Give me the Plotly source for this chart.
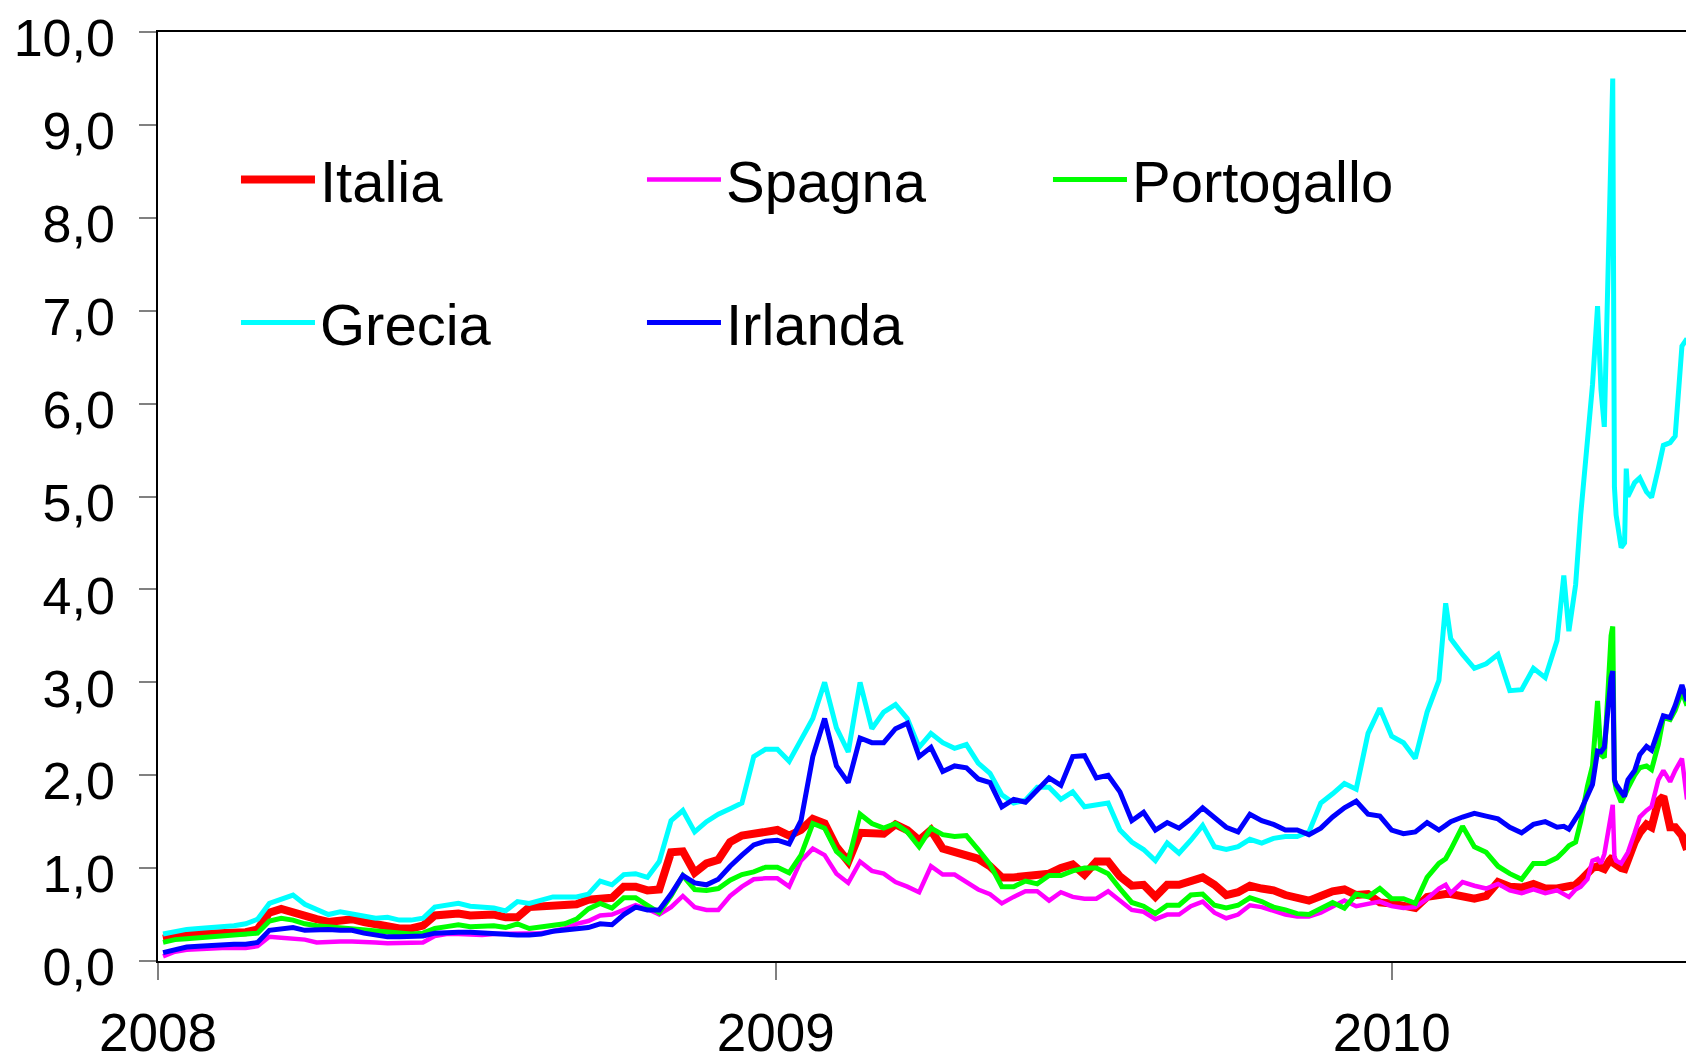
import pandas as pd
import plotly.graph_objects as go

# weekly observation dates (Fridays) plus denser points around the May 2010 crisis
weekly_a = [d.strftime('%Y-%m-%d') for d in pd.date_range('2008-01-04', '2010-01-29', freq='7D')]
extra_feb = ['2010-02-02']
weekly_b = [d.strftime('%Y-%m-%d') for d in pd.date_range('2010-02-05', '2010-04-09', freq='7D')]
late_dates = ['2010-04-13', '2010-04-16', '2010-04-20', '2010-04-23', '2010-04-27', '2010-04-30',
              '2010-05-03', '2010-05-05', '2010-05-07', '2010-05-10', '2010-05-11', '2010-05-12',
              '2010-05-13', '2010-05-14', '2010-05-17', '2010-05-19', '2010-05-20', '2010-05-21',
              '2010-05-25', '2010-05-28', '2010-06-01', '2010-06-04', '2010-06-08', '2010-06-11',
              '2010-06-15', '2010-06-18', '2010-06-22', '2010-06-25']
dates = weekly_a + extra_feb + weekly_b + late_dates

# spreads vs Bund (percentage points)
italia = [0.24, 0.27, 0.29, 0.29, 0.29, 0.30, 0.30, 0.31, 0.34, 0.52,
          0.56, 0.52, 0.47, 0.45, 0.42, 0.44, 0.45, 0.42, 0.39, 0.36,
          0.35, 0.35, 0.38, 0.49, 0.50, 0.51, 0.49, 0.50, 0.50, 0.47,
          0.47, 0.58, 0.59, 0.60, 0.61, 0.61, 0.66, 0.68, 0.68, 0.80,
          0.80, 0.76, 0.77, 1.17, 1.18, 0.95, 1.05, 1.09, 1.28, 1.35,
          1.37, 1.38, 1.41, 1.35, 1.41, 1.53, 1.48, 1.23, 1.07, 1.38,
          1.38, 1.37, 1.47, 1.41, 1.30, 1.41, 1.21, 1.18, 1.15, 1.10,
          1.02, 0.90, 0.90, 0.91, 0.92, 0.94, 1.00, 1.04, 0.93, 1.07,
          1.07, 0.91, 0.81, 0.82, 0.69, 0.82, 0.82, 0.85, 0.90, 0.82,
          0.71, 0.74, 0.81, 0.78, 0.76, 0.71, 0.67, 0.65, 0.70, 0.75,
          0.77, 0.71, 0.72, 0.63, 0.62, 0.60, 0.57, 0.69, 0.72,
          0.72,
          0.72, 0.70, 0.67, 0.70, 0.85, 0.80, 0.79, 0.83, 0.78, 0.78,
          0.79, 0.80, 0.82, 0.87, 0.96, 1.00, 1.02, 1.00, 0.99, 1.08, 1.10, 1.12,
          1.05, 1.03, 1.00, 0.99, 1.05, 1.10, 1.28, 1.38, 1.47, 1.44, 1.72, 1.77,
          1.44, 1.44, 1.35, 1.20]

spagna = [0.05, 0.10, 0.12, 0.13, 0.14, 0.14, 0.14, 0.14, 0.16, 0.26,
          0.25, 0.24, 0.23, 0.20, 0.21, 0.21, 0.21, 0.21, 0.20, 0.19,
          0.19, 0.19, 0.20, 0.27, 0.29, 0.29, 0.28, 0.28, 0.29, 0.29,
          0.29, 0.29, 0.30, 0.32, 0.35, 0.40, 0.43, 0.49, 0.50, 0.55,
          0.60, 0.56, 0.50, 0.58, 0.70, 0.58, 0.55, 0.55, 0.70, 0.80,
          0.88, 0.89, 0.89, 0.80, 1.08, 1.21, 1.14, 0.94, 0.84, 1.07,
          0.97, 0.94, 0.85, 0.80, 0.74, 1.02, 0.93, 0.93, 0.85, 0.77,
          0.72, 0.62, 0.69, 0.75, 0.75, 0.65, 0.74, 0.69, 0.67, 0.67,
          0.75, 0.65, 0.55, 0.53, 0.45, 0.50, 0.50, 0.59, 0.64, 0.52,
          0.46, 0.50, 0.60, 0.58, 0.54, 0.50, 0.48, 0.48, 0.52, 0.59,
          0.65, 0.59, 0.62, 0.64, 0.59, 0.57, 0.58, 0.67, 0.78,
          0.82,
          0.73, 0.85, 0.81, 0.78, 0.83, 0.76, 0.73, 0.77, 0.73, 0.76,
          0.72, 0.69, 0.77, 0.80, 0.88, 1.08, 1.10, 1.05, 1.15, 1.47, 1.62, 1.68,
          1.12, 1.08, 1.05, 1.10, 1.14, 1.17, 1.38, 1.55, 1.62, 1.66, 1.95, 2.05,
          1.93, 2.05, 2.18, 1.74]

portogallo = [0.20, 0.23, 0.24, 0.25, 0.26, 0.26, 0.27, 0.28, 0.30, 0.43,
              0.46, 0.44, 0.40, 0.38, 0.37, 0.36, 0.35, 0.34, 0.33, 0.31,
              0.30, 0.29, 0.30, 0.35, 0.37, 0.39, 0.37, 0.37, 0.38, 0.36,
              0.40, 0.35, 0.37, 0.38, 0.40, 0.45, 0.56, 0.62, 0.57, 0.68,
              0.68, 0.60, 0.52, 0.70, 0.92, 0.77, 0.76, 0.78, 0.87, 0.93,
              0.96, 1.01, 1.01, 0.95, 1.14, 1.48, 1.43, 1.18, 1.07, 1.58,
              1.48, 1.43, 1.48, 1.39, 1.23, 1.43, 1.36, 1.34, 1.35, 1.20,
              1.04, 0.80, 0.80, 0.86, 0.83, 0.92, 0.92, 0.97, 1.00, 1.00,
              0.94, 0.78, 0.63, 0.59, 0.51, 0.60, 0.60, 0.71, 0.72, 0.60,
              0.57, 0.60, 0.68, 0.64, 0.58, 0.55, 0.51, 0.50, 0.56, 0.63,
              0.57, 0.72, 0.69, 0.78, 0.67, 0.67, 0.62, 0.90, 1.05,
              1.10,
              1.20, 1.45, 1.23, 1.17, 1.02, 0.94, 0.88, 1.05, 1.05, 1.11,
              1.18, 1.24, 1.28, 1.50, 1.88, 2.10, 2.80, 2.22, 2.19, 3.33, 3.50, 3.60,
              1.95, 1.85, 1.71, 1.78, 1.84, 1.86, 2.00, 2.08, 2.10, 2.06, 2.33, 2.62,
              2.60, 2.70, 2.90, 2.75]

grecia = [0.29, 0.32, 0.34, 0.35, 0.36, 0.36, 0.38, 0.40, 0.45, 0.62,
          0.66, 0.71, 0.61, 0.55, 0.50, 0.53, 0.51, 0.48, 0.46, 0.47,
          0.44, 0.44, 0.46, 0.58, 0.60, 0.62, 0.59, 0.58, 0.57, 0.54,
          0.64, 0.62, 0.66, 0.69, 0.69, 0.69, 0.72, 0.86, 0.82, 0.93,
          0.94, 0.90, 1.07, 1.51, 1.62, 1.39, 1.50, 1.58, 1.64, 1.70,
          2.20, 2.28, 2.28, 2.15, 2.38, 2.61, 3.00, 2.51, 2.25, 3.00,
          2.50, 2.68, 2.76, 2.61, 2.30, 2.45, 2.35, 2.29, 2.33, 2.13,
          2.02, 1.79, 1.70, 1.73, 1.87, 1.87, 1.74, 1.82, 1.66, 1.68,
          1.70, 1.41, 1.28, 1.20, 1.08, 1.27, 1.16, 1.30, 1.46, 1.23,
          1.20, 1.23, 1.31, 1.27, 1.32, 1.34, 1.34, 1.39, 1.70, 1.80,
          1.91, 1.85, 2.45, 2.72, 2.42, 2.35, 2.18, 2.68, 3.02,
          3.85,
          3.47, 3.30, 3.15, 3.20, 3.30, 2.91, 2.92, 3.15, 3.05, 3.45,
          4.15, 3.55, 4.05, 4.80, 5.60, 6.20, 7.05, 6.16, 5.75, 8.20, 9.00, 9.50,
          5.10, 4.80, 4.45, 4.50, 5.30, 5.00, 5.15, 5.20, 5.05, 4.99, 5.30, 5.55,
          5.58, 5.65, 6.62, 6.70]

irlanda = [0.09, 0.12, 0.15, 0.16, 0.17, 0.17, 0.18, 0.18, 0.20, 0.33,
           0.35, 0.36, 0.33, 0.34, 0.34, 0.33, 0.33, 0.30, 0.28, 0.26,
           0.26, 0.26, 0.27, 0.30, 0.31, 0.31, 0.31, 0.30, 0.29, 0.28,
           0.28, 0.28, 0.29, 0.32, 0.33, 0.35, 0.36, 0.40, 0.39, 0.50,
           0.58, 0.55, 0.55, 0.72, 0.92, 0.84, 0.82, 0.88, 1.02, 1.14,
           1.25, 1.29, 1.30, 1.26, 1.51, 2.20, 2.61, 2.10, 1.92, 2.40,
           2.35, 2.35, 2.50, 2.56, 2.20, 2.30, 2.04, 2.10, 2.08, 1.96,
           1.92, 1.66, 1.74, 1.71, 1.84, 1.97, 1.89, 2.20, 2.21, 1.97,
           2.00, 1.82, 1.51, 1.60, 1.41, 1.49, 1.43, 1.53, 1.65, 1.55,
           1.44, 1.39, 1.58, 1.51, 1.47, 1.41, 1.41, 1.36, 1.43, 1.55,
           1.65, 1.72, 1.58, 1.56, 1.41, 1.37, 1.39, 1.49, 1.41,
           1.46,
           1.50, 1.55, 1.59, 1.56, 1.53, 1.44, 1.38, 1.47, 1.50, 1.44,
           1.45, 1.42, 1.53, 1.62, 1.78, 1.90, 2.26, 2.25, 2.30, 2.91, 3.05, 3.12,
           1.95, 1.90, 1.82, 1.77, 1.88, 1.95, 2.05, 2.22, 2.31, 2.27, 2.48, 2.64,
           2.62, 2.75, 2.97, 2.80]

year_ticks = ['2008-01-01', '2009-01-01', '2010-01-01']
year_labels = ['2008', '2009', '2010']

series = [
    ('Italia', italia, '#ff0000', 8, 'legend'),
    ('Spagna', spagna, '#ff00ff', 4.5, 'legend'),
    ('Portogallo', portogallo, '#00ff00', 5, 'legend'),
    ('Grecia', grecia, '#00ffff', 5, 'legend2'),
    ('Irlanda', irlanda, '#0000ff', 5, 'legend2'),
]

fig = go.Figure()
for name, vals, color, width, leg in series:
    fig.add_trace(go.Scatter(x=dates, y=vals, name=name, mode='lines',
                             line=dict(color=color, width=width), legend=leg))

font_family = 'Liberation Sans, Arial, sans-serif'
legend_style = dict(orientation='h', xanchor='left', yanchor='middle',
                    entrywidth=317, entrywidthmode='pixels', itemwidth=74,
                    bgcolor='rgba(0,0,0,0)', font=dict(size=58, color='black', family=font_family))

# the page body adds an 8px offset, so the figure is sized to fit inside the window
fig.update_layout(
    template='none',
    width=1686, height=1056,
    margin=dict(l=150, r=7, t=24, b=103),
    paper_bgcolor='white', plot_bgcolor='white',
    font=dict(family=font_family, color='black'),
    separators=',.',
    showlegend=True,
    legend=dict(x=0.051, y=0.841, **legend_style),
    legend2=dict(x=0.051, y=0.687, **legend_style),
)

fig.update_xaxes(
    type='date', range=['2008-01-01', '2010-06-25'],
    tickvals=year_ticks, ticktext=year_labels,
    ticks='outside', ticklen=17, tickwidth=1.5, tickcolor='#808080',
    showline=True, linecolor='black', linewidth=1.5, mirror=True,
    showgrid=False, zeroline=False, automargin=False,
    tickfont=dict(size=53), ticklabelstandoff=8, ticklabeloverflow='allow',
)
fig.update_yaxes(
    range=[0, 10], dtick=1, tickformat='.1f',
    ticks='outside', ticklen=17, tickwidth=1.5, tickcolor='#808080',
    showline=True, linecolor='black', linewidth=1.5, mirror=True,
    showgrid=False, zeroline=False, automargin=False,
    tickfont=dict(size=52), ticklabelstandoff=14, ticklabelshift=6,
    ticklabeloverflow='allow',
)

fig.write_html("out.html")
